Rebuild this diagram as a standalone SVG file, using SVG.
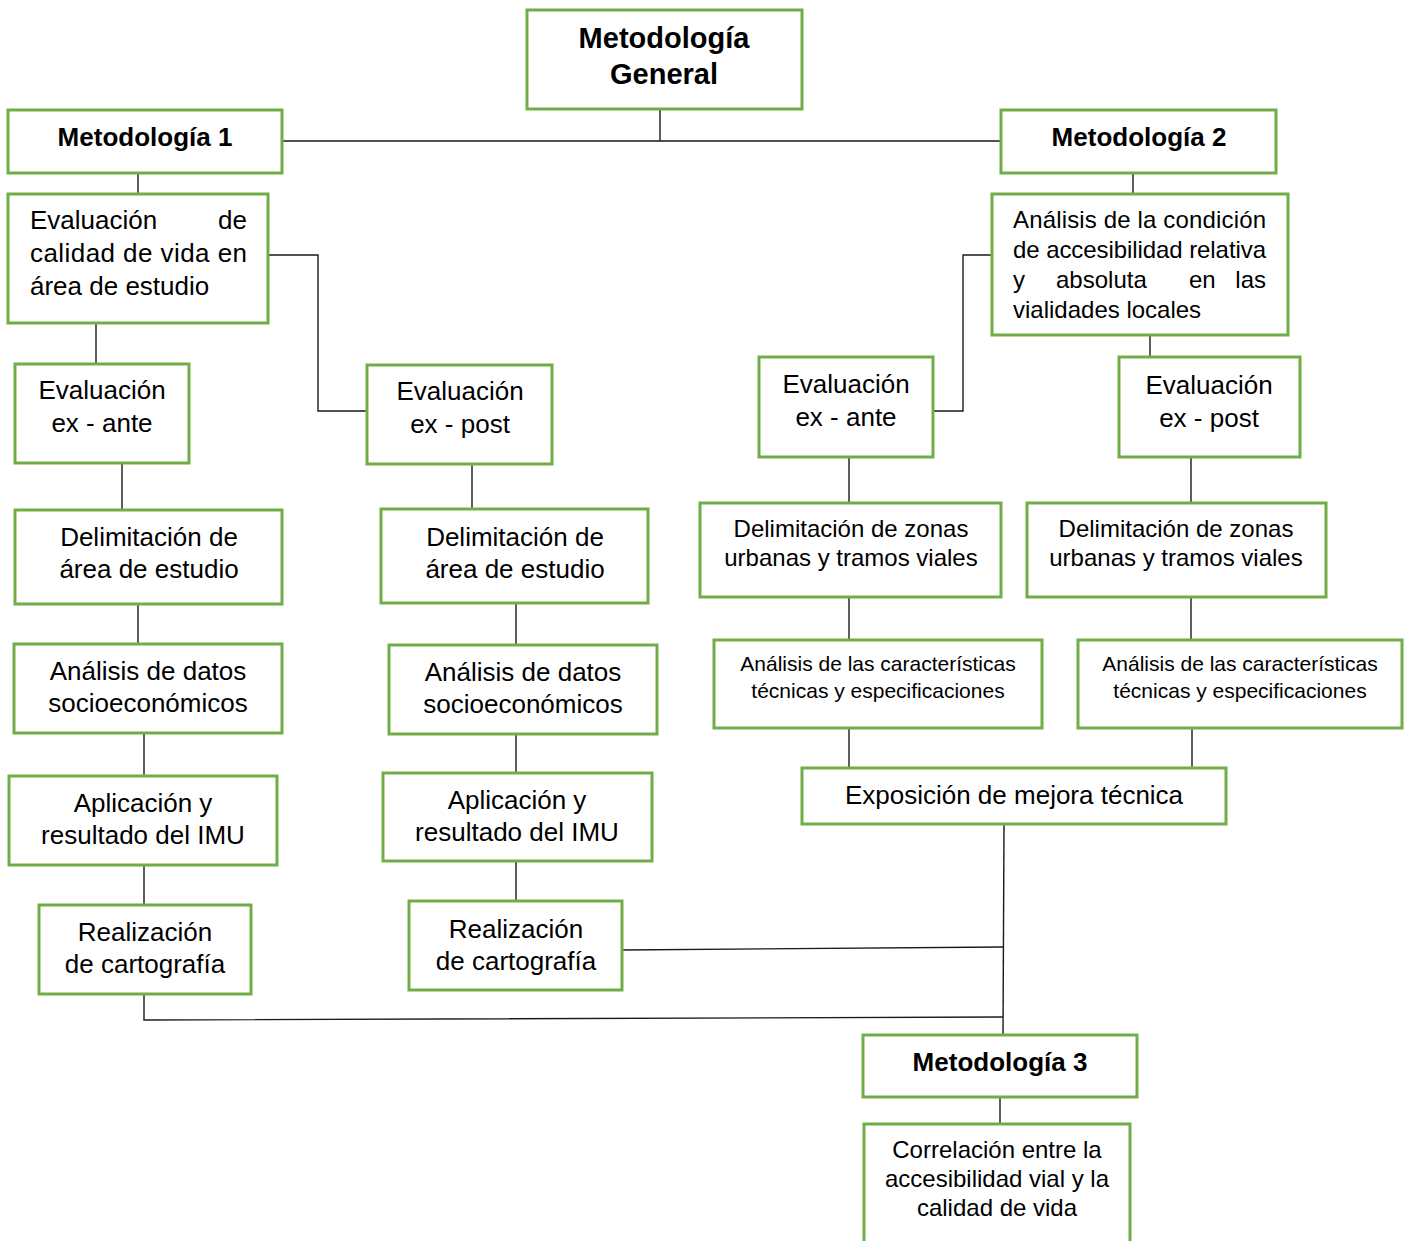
<svg xmlns="http://www.w3.org/2000/svg" width="1408" height="1241" viewBox="0 0 1408 1241">
<style>
.box{fill:#fff;stroke:#70AD47;stroke-width:3}
.t{font-family:"Liberation Sans",Arial,sans-serif;fill:#000}
.r26{font-size:26px;text-anchor:middle}
.r24{font-size:24px;text-anchor:middle}
.r21{font-size:21px;text-anchor:middle}
.b{font-weight:bold;text-anchor:middle}
.conn{fill:none;stroke:#1a1a1a;stroke-width:1.4}
</style>
<rect width="1408" height="1241" fill="#fff"/>
<g id="connectors" class="conn">
<path d="M660,109V141M282,141H1001"/>
<path d="M138,173V194"/>
<path d="M1133,173V194"/>
<path d="M96,323V364"/>
<path d="M268,255H318V411H367"/>
<path d="M122,463V510"/>
<path d="M472,464V509"/>
<path d="M138,604V644"/>
<path d="M516,603V645"/>
<path d="M144,733V776"/>
<path d="M516,734V773"/>
<path d="M144,865V905"/>
<path d="M516,861V901"/>
<path d="M144,994V1020L1003,1017"/>
<path d="M622,950L1003,947"/>
<path d="M1004,824L1003,1035"/>
<path d="M1000,1097V1124"/>
<path d="M992,255H963V411H933"/>
<path d="M1150,335V357"/>
<path d="M849,457V503"/>
<path d="M1191,457V503"/>
<path d="M849,597V640"/>
<path d="M1191,597V640"/>
<path d="M849,728V768"/>
<path d="M1192,728V768"/>
</g>
<g id="n-general"><rect class="box" x="527" y="10" width="275" height="99"/><text class="t b" font-size="29" x="664" y="48">Metodología</text><text class="t b" font-size="29" x="664" y="84">General</text></g>
<g id="n-met1"><rect class="box" x="8" y="110" width="274" height="63"/><text class="t b" font-size="26" x="145" y="146">Metodología 1</text></g>
<g id="n-met2"><rect class="box" x="1001" y="110" width="275" height="63"/><text class="t b" font-size="26" x="1139" y="146">Metodología 2</text></g>
<g id="n-evalcal"><rect class="box" x="8" y="194" width="260" height="129"/>
<text class="t" font-size="26" x="30" y="229">Evaluación</text><text class="t" font-size="26" x="247" y="229" text-anchor="end">de</text>
<text class="t" font-size="26" x="30" y="262" textLength="217" lengthAdjust="spacing">calidad de vida en</text>
<text class="t" font-size="26" x="30" y="295">área de estudio</text></g>
<g id="n-exante-l"><rect class="box" x="15" y="364" width="174" height="99"/><text class="t r26" x="102" y="399">Evaluación</text><text class="t r26" x="102" y="432">ex - ante</text></g>
<g id="n-expost-l"><rect class="box" x="367" y="365" width="185" height="99"/><text class="t r26" x="460" y="400">Evaluación</text><text class="t r26" x="460" y="433">ex - post</text></g>
<g id="n-delim-l1"><rect class="box" x="15" y="510" width="267" height="94"/><text class="t r26" x="149" y="546">Delimitación de</text><text class="t r26" x="149" y="578">área de estudio</text></g>
<g id="n-delim-l2"><rect class="box" x="381" y="509" width="267" height="94"/><text class="t r26" x="515" y="546">Delimitación de</text><text class="t r26" x="515" y="578">área de estudio</text></g>
<g id="n-anal-l1"><rect class="box" x="14" y="644" width="268" height="89"/><text class="t r26" x="148" y="680">Análisis de datos</text><text class="t r26" x="148" y="712">socioeconómicos</text></g>
<g id="n-anal-l2"><rect class="box" x="389" y="645" width="268" height="89"/><text class="t r26" x="523" y="681">Análisis de datos</text><text class="t r26" x="523" y="713">socioeconómicos</text></g>
<g id="n-aplic-l1"><rect class="box" x="9" y="776" width="268" height="89"/><text class="t r26" x="143" y="812">Aplicación y</text><text class="t r26" x="143" y="844">resultado del IMU</text></g>
<g id="n-aplic-l2"><rect class="box" x="383" y="773" width="269" height="88"/><text class="t r26" x="517" y="809">Aplicación y</text><text class="t r26" x="517" y="841">resultado del IMU</text></g>
<g id="n-real-l1"><rect class="box" x="39" y="905" width="212" height="89"/><text class="t r26" x="145" y="941">Realización</text><text class="t r26" x="145" y="973">de cartografía</text></g>
<g id="n-real-l2"><rect class="box" x="409" y="901" width="213" height="89"/><text class="t r26" x="516" y="938">Realización</text><text class="t r26" x="516" y="970">de cartografía</text></g>
<g id="n-analcond"><rect class="box" x="992" y="194" width="296" height="141"/>
<text class="t" font-size="24" x="1013" y="228" textLength="253" lengthAdjust="spacing">Análisis de la condición</text>
<text class="t" font-size="24" x="1013" y="258" textLength="253" lengthAdjust="spacing">de accesibilidad relativa</text>
<text class="t" font-size="24" x="1013" y="288">y</text><text class="t" font-size="24" x="1056" y="288">absoluta</text><text class="t" font-size="24" x="1189" y="288">en</text><text class="t" font-size="24" x="1266" y="288" text-anchor="end">las</text>
<text class="t" font-size="24" x="1013" y="318">vialidades locales</text></g>
<g id="n-exante-r"><rect class="box" x="759" y="357" width="174" height="100"/><text class="t r26" x="846" y="393">Evaluación</text><text class="t r26" x="846" y="426">ex - ante</text></g>
<g id="n-expost-r"><rect class="box" x="1119" y="357" width="181" height="100"/><text class="t r26" x="1209" y="394">Evaluación</text><text class="t r26" x="1209" y="427">ex - post</text></g>
<g id="n-delim-r1"><rect class="box" x="700" y="503" width="301" height="94"/><text class="t r24" x="851" y="537">Delimitación de zonas</text><text class="t r24" x="851" y="566">urbanas y tramos viales</text></g>
<g id="n-delim-r2"><rect class="box" x="1027" y="503" width="299" height="94"/><text class="t r24" x="1176" y="537">Delimitación de zonas</text><text class="t r24" x="1176" y="566">urbanas y tramos viales</text></g>
<g id="n-car-r1"><rect class="box" x="714" y="640" width="328" height="88"/><text class="t r21" x="878" y="671">Análisis de las características</text><text class="t r21" x="878" y="698">técnicas y especificaciones</text></g>
<g id="n-car-r2"><rect class="box" x="1078" y="640" width="324" height="88"/><text class="t r21" x="1240" y="671">Análisis de las características</text><text class="t r21" x="1240" y="698">técnicas y especificaciones</text></g>
<g id="n-expo"><rect class="box" x="802" y="768" width="424" height="56"/><text class="t r26" x="1014" y="804">Exposición de mejora técnica</text></g>
<g id="n-met3"><rect class="box" x="863" y="1035" width="274" height="62"/><text class="t b" font-size="26" x="1000" y="1071">Metodología 3</text></g>
<g id="n-correl"><rect class="box" x="864" y="1124" width="266" height="130"/><text class="t r24" x="997" y="1158">Correlación entre la</text><text class="t r24" x="997" y="1187">accesibilidad vial y la</text><text class="t r24" x="997" y="1216">calidad de vida</text></g>
</svg>
